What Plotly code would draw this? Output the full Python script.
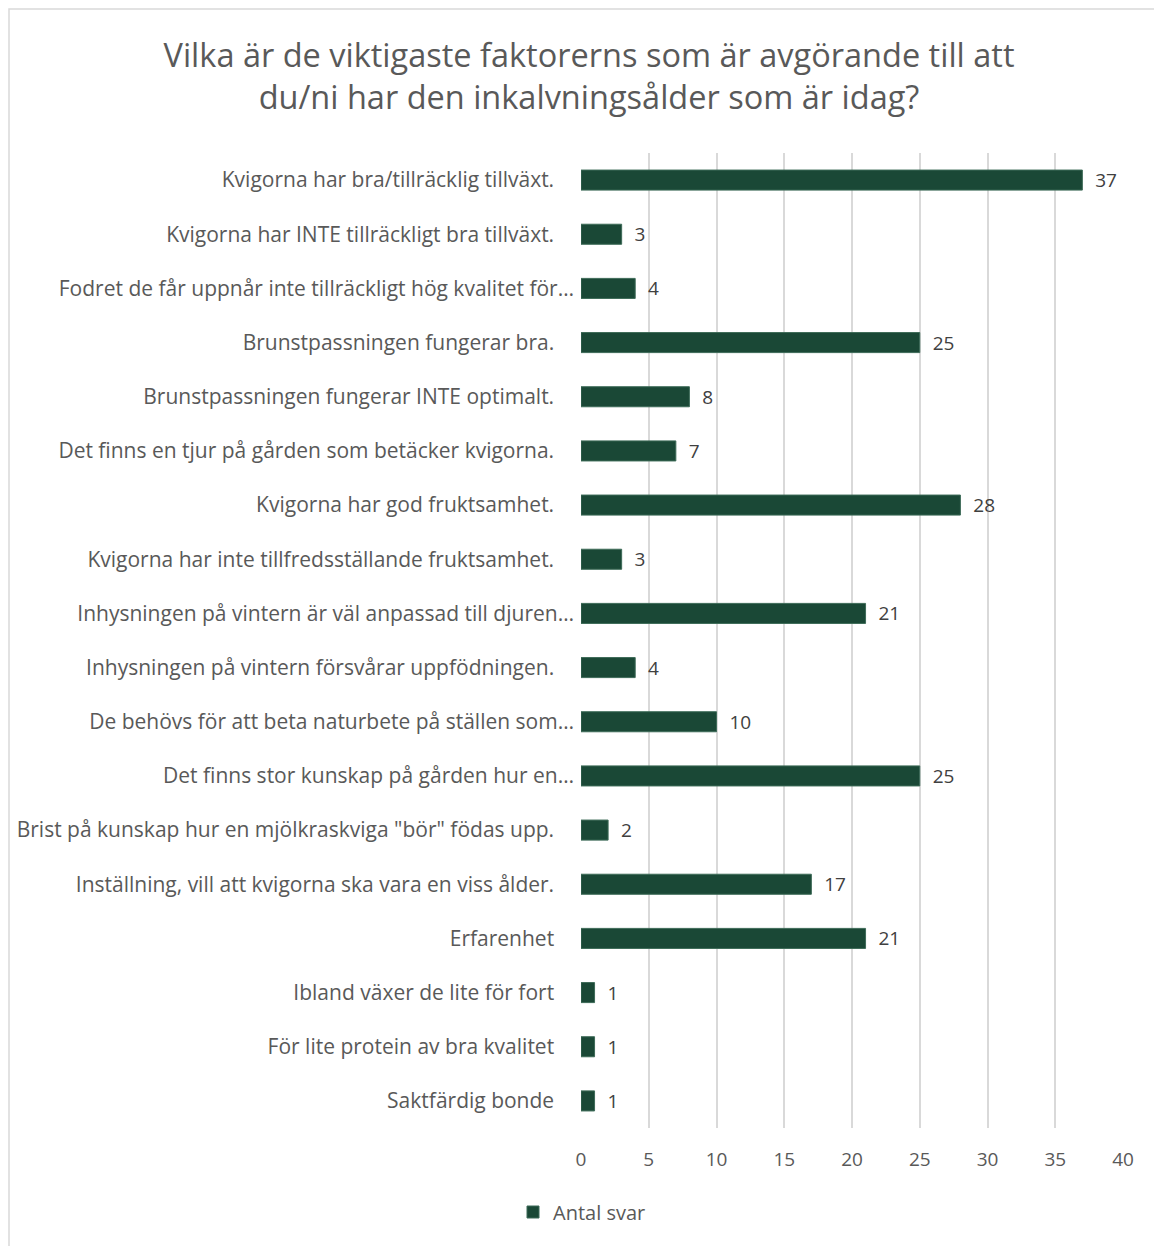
import plotly.graph_objects as go

categories = [
    "Kvigorna har bra/tillräcklig tillväxt.",
    "Kvigorna har INTE tillräckligt bra tillväxt.",
    "Fodret de får uppnår inte tillräckligt hög kvalitet för…",
    "Brunstpassningen fungerar bra.",
    "Brunstpassningen fungerar INTE optimalt.",
    "Det finns en tjur på gården som betäcker kvigorna.",
    "Kvigorna har god fruktsamhet.",
    "Kvigorna har inte tillfredsställande fruktsamhet.",
    "Inhysningen på vintern är väl anpassad till djuren…",
    "Inhysningen på vintern försvårar uppfödningen.",
    "De behövs för att beta naturbete på ställen som…",
    "Det finns stor kunskap på gården hur en…",
    "Brist på kunskap hur en mjölkraskviga \"bör\" födas upp.",
    "Inställning, vill att kvigorna ska vara en viss ålder.",
    "Erfarenhet",
    "Ibland växer de lite för fort",
    "För lite protein av bra kvalitet",
    "Saktfärdig bonde",
]
values = [37, 3, 4, 25, 8, 7, 28, 3, 21, 4, 10, 25, 2, 17, 21, 1, 1, 1]
series_name = "Antal svar"
x_ticks = [0, 5, 10, 15, 20, 25, 30, 35, 40]

FONT = "Open Sans"
W, H = 1162, 1246
L, R, T, B = 573, 47, 145, 126
pw, ph = W - L - R, H - T - B

# Excel places truncated (ellipsis) labels closer to the axis than full ones
pad = "\u00a0\u00a0\u00a0\u2009"
tick_text = [c if c.endswith("…") else c + pad for c in categories]

fig = go.Figure(
    go.Bar(
        y=categories,
        x=values,
        orientation="h",
        name=series_name,
        marker=dict(color="#1a4836", line=dict(color="#3d6b58", width=1)),
        width=0.37,
        texttemplate="\u00a0\u00a0%{x}",
        textposition="outside",
        textfont=dict(family=FONT, size=19, color="#404040"),
        constraintext="none",
        cliponaxis=False,
        showlegend=True,
    )
)

fig.update_layout(
    width=W,
    height=H,
    margin=dict(l=L, r=R, t=T, b=B, autoexpand=False),
    paper_bgcolor="white",
    plot_bgcolor="white",
    font=dict(family=FONT, color="#595959"),
    title=dict(
        text="Vilka är de viktigaste faktorerns som är avgörande till att<br>du/ni har den inkalvningsålder som är idag?",
        x=0.5,
        xanchor="center",
        y=1 - 59 / H,
        yanchor="middle",
        font=dict(family=FONT, size=32.5, color="#595959"),
    ),
    xaxis=dict(
        range=[0, 40],
        tickvals=x_ticks,
        showgrid=True,
        gridcolor="#d9d9d9",
        gridwidth=1.5,
        zeroline=False,
        showline=False,
        ticks="",
        automargin=False,
        tickfont=dict(family=FONT, size=19, color="#595959"),
        ticklabelstandoff=18,
    ),
    yaxis=dict(
        categoryorder="array",
        categoryarray=categories[::-1],
        tickvals=categories,
        ticktext=tick_text,
        range=[-0.5, len(categories) - 0.5],
        autorange=False,
        showgrid=False,
        zeroline=False,
        showline=False,
        ticks="",
        automargin=False,
        tickfont=dict(family=FONT, size=21, color="#595959"),
        ticklabelstandoff=6,
    ),
    legend=dict(
        orientation="h",
        x=(505 - L) / pw,
        xanchor="left",
        y=-(1204 - (T + ph)) / ph,
        yanchor="middle",
        font=dict(family=FONT, size=20, color="#595959"),
        itemwidth=30,
    ),
    bargap=0.63,
    shapes=[
        dict(
            type="rect",
            xref="paper",
            yref="paper",
            x0=(1 - L) / pw,
            x1=(W + 10 - L) / pw,
            y0=-(H + 10 - (T + ph)) / ph,
            y1=(T + ph - 1) / ph,
            line=dict(color="#d9d9d9", width=1.5),
            layer="below",
        )
    ],
)

fig.write_html("out.html")
